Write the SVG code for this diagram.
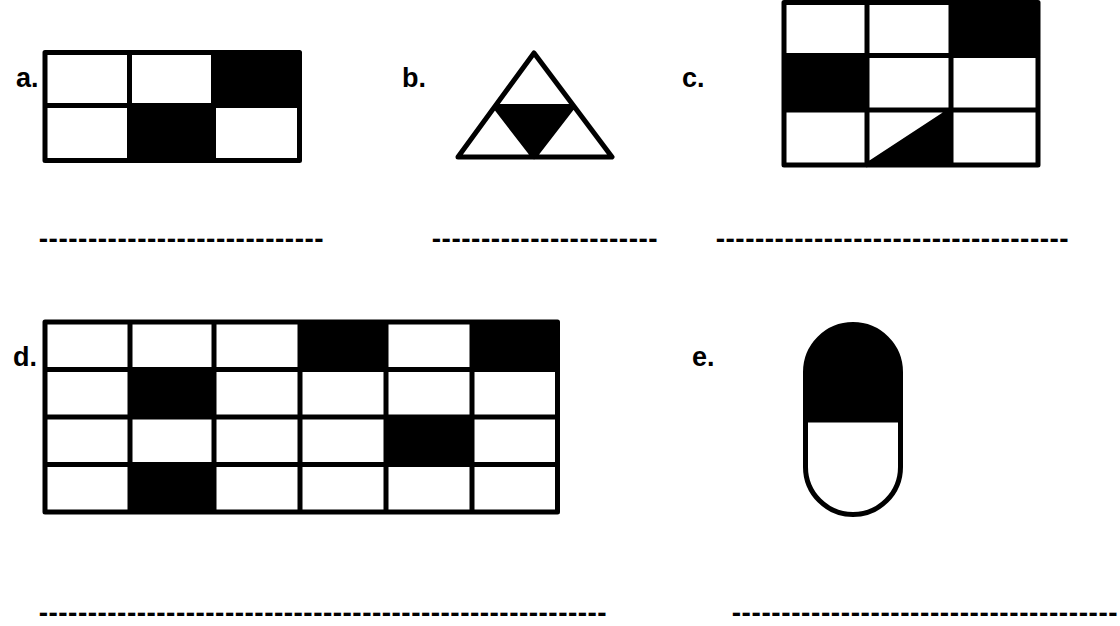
<svg xmlns="http://www.w3.org/2000/svg" width="1120" height="626" viewBox="0 0 1120 626">
<style>
.lbl{font-family:"Liberation Sans",Arial,sans-serif;font-weight:bold;font-size:27px;fill:#000}
.dash{font-family:"Liberation Sans",Arial,sans-serif;font-weight:bold;font-size:28px;fill:#000}
.ln{fill:none;stroke:#000;stroke-width:5;stroke-linejoin:round;stroke-linecap:round}
.blk{fill:#000}
</style>
<rect width="1120" height="626" fill="#fff"/>
<g id="figA">
<rect class="blk" x="213.5" y="52.5" width="86" height="53"/>
<rect class="blk" x="129.5" y="105.5" width="84" height="55"/>
<path class="ln" d="M45 52.5H299.5V160.5H45Z M129.5 52.5V160.5 M213.5 52.5V160.5 M45 105.5H299.5"/>
<text class="lbl" x="16" y="87">a.</text>
</g>
<g id="figB">
<polygon class="blk" points="495,106.5 573,106.5 534,157"/>
<path class="ln" d="M534 53L612 157H458Z M495 106.5H573L534 157Z"/>
<text class="lbl" x="402" y="87">b.</text>
</g>
<g id="figC">
<rect class="blk" x="951" y="2.5" width="87" height="53"/>
<rect class="blk" x="784" y="55.5" width="83" height="54.5"/>
<polygon class="blk" points="867,165 951,110 951,165"/>
<path class="ln" d="M784 2.5H1038V165H784Z M867 2.5V165 M951 2.5V165 M784 55.5H1038 M784 110H1038 M867 165L951 110"/>
<text class="lbl" x="682" y="87">c.</text>
</g>
<g id="figD">
<rect class="blk" x="300" y="322" width="86" height="47.5"/>
<rect class="blk" x="472" y="322" width="85.5" height="47.5"/>
<rect class="blk" x="130" y="369.5" width="84" height="47.5"/>
<rect class="blk" x="386" y="417" width="86" height="47.5"/>
<rect class="blk" x="130" y="464.5" width="84" height="47.5"/>
<path class="ln" d="M45 322H557.5V512H45Z M130 322V512 M214 322V512 M300 322V512 M386 322V512 M472 322V512 M45 369.5H557.5 M45 417H557.5 M45 464.5H557.5"/>
<text class="lbl" x="13" y="366">d.</text>
</g>
<g id="figE">
<path class="blk" d="M805.5 420V372A47.5 47.5 0 0 1 900.5 372V420Z"/>
<path class="ln" d="M805.5 372A47.5 47.5 0 0 1 900.5 372V467A47.5 47.5 0 0 1 805.5 467Z M805.5 420H900.5"/>
<text class="lbl" x="692" y="366">e.</text>
</g>
<g id="blanks">
<text class="dash" x="38.7" y="248" textLength="285" lengthAdjust="spacing">-----------------------------</text>
<text class="dash" x="431.7" y="248" textLength="226" lengthAdjust="spacing">-----------------------</text>
<text class="dash" x="715.7" y="248" textLength="353" lengthAdjust="spacing">------------------------------------</text>
<text class="dash" x="38.7" y="622" textLength="568" lengthAdjust="spacing">----------------------------------------------------------</text>
<text class="dash" x="731.7" y="622" textLength="386" lengthAdjust="spacing">---------------------------------------</text>
</g>
</svg>
